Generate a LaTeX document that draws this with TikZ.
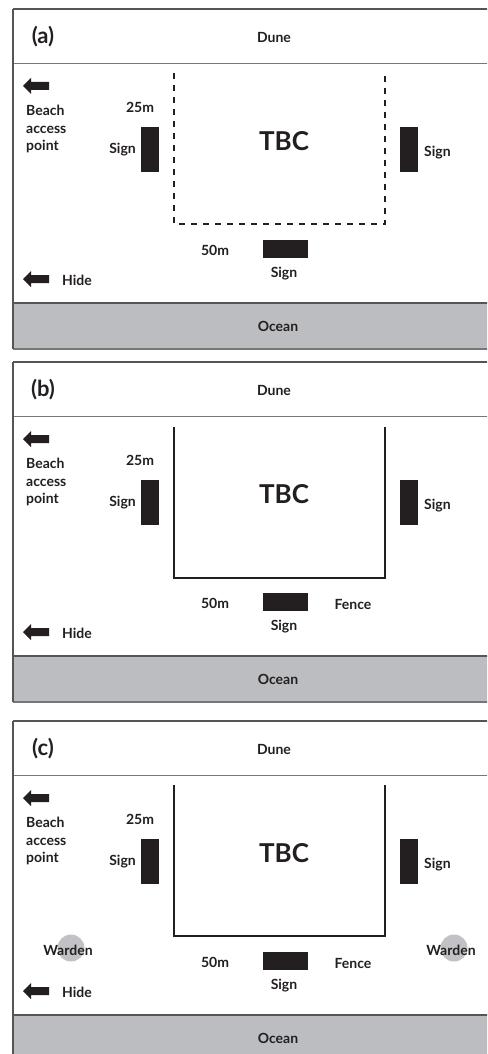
\documentclass[tikz,border=0pt]{standalone}
\usepackage{fontspec}
\setmainfont{Lato}
\definecolor{ink}{HTML}{231F20}
\definecolor{oceangrey}{HTML}{BCBDC1}
\definecolor{framegrey}{HTML}{555555}
\definecolor{linegrey}{HTML}{777777}
\definecolor{wardengrey}{HTML}{C2C2C6}
\tikzset{
  lbl/.style={font=\bfseries\fontsize{14}{17.5}\selectfont, text=ink, inner sep=0pt},
  panellbl/.style={font=\bfseries\fontsize{22}{26}\selectfont, text=ink, inner sep=0pt},
  bigtxt/.style={font=\bfseries\fontsize{26}{30}\selectfont, text=ink, inner sep=0pt},
  signbox/.style={fill=ink, draw=none, inner sep=0pt, minimum width=18pt, minimum height=45pt},
  wideSign/.style={fill=ink, draw=none, inner sep=0pt, minimum width=45pt, minimum height=18pt},
  frameline/.style={draw=framegrey, line width=1.6pt},
  thinline/.style={draw=linegrey, line width=1.2pt},
  plotdashed/.style={draw=ink, line width=1.4pt, dash pattern=on 6pt off 6pt},
  fenceline/.style={draw=ink, line width=2.8pt},
  wardendot/.style={circle, fill=wardengrey, draw=none, minimum size=27pt, inner sep=0pt},
  pics/leftarrow/.style={code={
    \fill[ink] (0,0) -- (8,-8) -- (8,-4) -- (26,-4) -- (26,4) -- (8,4) -- (8,8) -- cycle;
  }}
}
% common layout of one panel: dune strip, beach area, ocean strip
\newcommand\panelbase[2]{%
  \fill[white] (13,0) rectangle (495,340);
  \fill[oceangrey] (13,294) rectangle (495,340);
  \draw[frameline] (13,0) -- (495,0);
  \draw[thinline] (13,54.5) -- (495,54.5);
  \draw[frameline] (13,294) -- (495,294);
  \draw[thinline] (13,340) -- (495,340);
  \draw[frameline] (13,0) -- (13,340);
  \node[panellbl] (label#1) at (43,28) {(#2)};
  \node[lbl] (dune#1) at (274,28) {Dune};
  \node[lbl] (ocean#1) at (278,317) {Ocean};
  \pic at (23,77) {leftarrow};
  \node[lbl, align=left, anchor=west] (beach#1) at (26,120) {Beach\\access\\point};
  \node[lbl] (dist25#1) at (140,98) {25m};
  \node[signbox] (signL#1) at (150,140.5) {};
  \node[lbl, anchor=east] (signLtxt#1) at (136,141) {Sign};
  \node[signbox] (signR#1) at (409,140.5) {};
  \node[lbl, anchor=west] (signRtxt#1) at (424,144) {Sign};
  \node[bigtxt] (tbc#1) at (284,132) {TBC};
  \node[wideSign] (signB#1) at (285.5,240) {};
  \node[lbl] (dist50#1) at (215,241) {50m};
  \node[lbl] (signBtxt#1) at (284,265) {Sign};
  \pic at (23,270) {leftarrow};
  \node[lbl, anchor=west] (hide#1) at (62,271) {Hide};
}
\begin{document}
\begin{tikzpicture}[x=1pt,y=-1pt]
\useasboundingbox (0,0) rectangle (487,1054);
\clip (0,0) rectangle (487,1054);
\fill[white] (0,0) rectangle (487,1054);

% (a) planned site, dashed boundary
\begin{scope}[shift={(0,9)}]
  \panelbase{A}{a}
  \draw[plotdashed] (174,64) -- (174,215) -- (385,215) -- (385,64);
\end{scope}

% (b) fenced site
\begin{scope}[shift={(0,362)}]
  \panelbase{B}{b}
  \draw[fenceline] (174,65) -- (174,216) -- (385,216) -- (385,65);
  \node[lbl] (fenceB) at (353,242) {Fence};
\end{scope}

% (c) fenced site with wardens
\begin{scope}[shift={(0,721)}]
  \panelbase{C}{c}
  \draw[fenceline] (174,64) -- (174,215) -- (385,215) -- (385,64);
  \node[lbl] (fenceC) at (353,242) {Fence};
  \node[wardendot] (wardenLdot) at (71,227) {};
  \node[wardendot] (wardenRdot) at (454,227) {};
  \node[lbl] (wardenL) at (68,229) {Warden};
  \node[lbl] (wardenR) at (451,229) {Warden};
\end{scope}
\end{tikzpicture}
\end{document}
